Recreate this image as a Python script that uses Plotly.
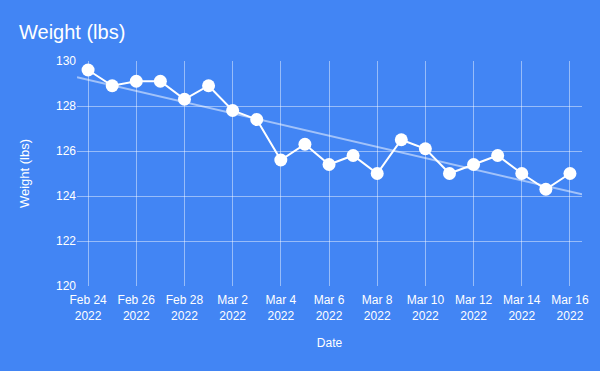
import numpy as np
import pandas as pd
import plotly.graph_objects as go

dates = pd.date_range("2022-02-24", "2022-03-16", freq="D").strftime("%Y-%m-%d").tolist()
weights = [129.6, 128.9, 129.1, 129.1, 128.3, 128.9, 127.8, 127.4, 125.6, 126.3,
           125.4, 125.8, 125.0, 126.5, 126.1, 125.0, 125.4, 125.8, 125.0, 124.3, 125.0]
tick_dates = dates[::2]
tick_labels = ["Feb 24<br>2022", "Feb 26<br>2022", "Feb 28<br>2022", "Mar 2<br>2022",
               "Mar 4<br>2022", "Mar 6<br>2022", "Mar 8<br>2022", "Mar 10<br>2022",
               "Mar 12<br>2022", "Mar 14<br>2022", "Mar 16<br>2022"]
y_ticks = [120, 122, 124, 126, 128, 130]

# linear trendline (least squares) over the x range
d = pd.to_datetime(dates)
xd = np.array([(t - d[0]).total_seconds() / 86400 for t in d])
slope, intercept = np.polyfit(xd, np.array(weights), 1)
x_lo, x_hi = -0.46, xd[-1] + 0.5
trend_x = [d[0] + pd.Timedelta(days=x_lo), d[0] + pd.Timedelta(days=x_hi)]
trend_y = [intercept + slope * x_lo, intercept + slope * x_hi]

BG = "#4285F4"
GRID = "rgba(255,255,255,0.45)"
FONT = "Arial, Liberation Sans, sans-serif"

fig = go.Figure()
fig.add_trace(go.Scatter(x=trend_x, y=trend_y, mode="lines",
                         line=dict(color="rgba(255,255,255,0.5)", width=2),
                         hoverinfo="skip", showlegend=False))
fig.add_trace(go.Scatter(x=dates, y=weights, mode="lines+markers",
                         line=dict(color="white", width=2),
                         marker=dict(color="white", size=13),
                         showlegend=False))

fig.update_layout(
    width=600, height=371,
    paper_bgcolor=BG, plot_bgcolor=BG,
    margin=dict(l=77, r=18, t=61, b=85),
    font=dict(family=FONT, color="white", size=12),
    title=dict(text="Weight (lbs)", x=19 / 600, xanchor="left", y=1 - 32 / 371, yanchor="middle",
               font=dict(size=20, color="white", family=FONT)),
    xaxis=dict(range=trend_x, tickvals=tick_dates, ticktext=tick_labels,
               showgrid=True, gridcolor=GRID, gridwidth=1, zeroline=False,
               showline=False, ticks="outside", ticklen=3, tickcolor="rgba(0,0,0,0)",
               tickfont=dict(size=12, color="white"),
               title=dict(text="Date", font=dict(size=12, color="white"), standoff=16)),
    yaxis=dict(range=[120, 130], tickvals=y_ticks, showgrid=True, gridcolor=GRID,
               gridwidth=1, zeroline=False, showline=False, ticks="",
               tickfont=dict(size=12, color="white"),
               title=dict(text="Weight (lbs)", font=dict(size=13, color="white"), standoff=23)),
)
fig.write_html("out.html", config={"displayModeBar": False},
               post_script="document.body.style.margin='0';document.body.style.background='#4285F4';")
